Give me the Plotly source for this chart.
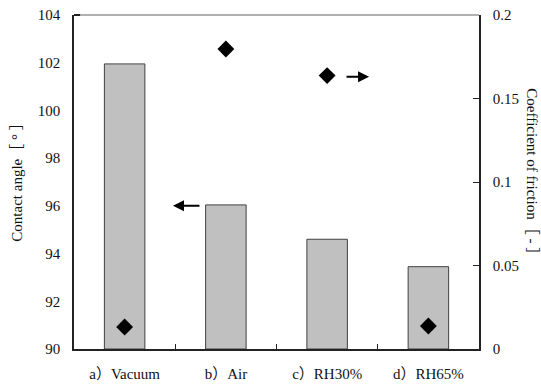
import plotly.graph_objects as go

# Conditions and measured values
conditions = ["a）Vacuum", "b）Air", "c）RH30%", "d）RH65%"]
contact_angle = [101.95, 96.04, 94.6, 93.45]       # degrees, bars on left axis
friction_coef = [0.0132, 0.1796, 0.1637, 0.0138]    # [-], diamonds on right axis
angle_base = 90

serif = "Liberation Serif, Times New Roman, Noto Sans CJK JP, serif"

fig = go.Figure()

# bars start at the bottom of the left axis
fig.add_trace(go.Bar(
    x=conditions, y=[v - angle_base for v in contact_angle], base=angle_base,
    width=0.4,
    marker=dict(color="#c0c0c0", line=dict(color="#404040", width=1)),
    yaxis="y", showlegend=False,
))

fig.add_trace(go.Scatter(
    x=conditions, y=friction_coef, mode="markers",
    marker=dict(symbol="diamond", size=13, color="black"),
    yaxis="y2", showlegend=False,
))

fig.update_layout(
    width=541, height=385,
    margin=dict(l=74, r=62, t=15, b=36),
    paper_bgcolor="white", plot_bgcolor="white",
    font=dict(family=serif, size=15, color="#111"),
    xaxis=dict(
        type="category", range=[-0.5, 3.5], automargin=False,
        showline=True, linecolor="#222", linewidth=1.5,
        ticks="inside", tickson="boundaries", ticklen=5, tickcolor="#222",
        showgrid=False, ticklabelstandoff=10,
        tickfont=dict(size=15),
    ),
    yaxis=dict(
        range=[90, 104], dtick=2, automargin=False,
        showline=True, linecolor="#222", linewidth=1.5,
        ticks="", showgrid=False, zeroline=False,
        ticklabelstandoff=9,
        tickfont=dict(size=15),
    ),
    yaxis2=dict(
        overlaying="y", side="right", automargin=False,
        range=[0, 0.2], dtick=0.05,
        showline=True, linecolor="#222", linewidth=1.5,
        ticks="inside", ticklen=6, tickcolor="#222",
        showgrid=False, zeroline=False,
        ticklabelstandoff=9,
        tickfont=dict(size=15),
    ),
    shapes=[
        # light top border of the plot area
        dict(type="line", xref="paper", yref="paper", x0=0, x1=1, y0=1, y1=1,
             line=dict(color="#b0b0b0", width=2)),
        dict(type="line", xref="paper", yref="paper", x0=0, x1=0.015, y0=1, y1=1,
             line=dict(color="#222", width=2)),
    ],
    annotations=[
        # left axis title
        dict(text="Contact angle［ ° ］", xref="paper", yref="paper",
             x=0, y=0.51, xanchor="center", yanchor="middle", xshift=-57,
             textangle=-90, showarrow=False, font=dict(size=15)),
        # right axis title, reading top to bottom
        dict(text="Coefficient of friction［ - ］", xref="paper", yref="paper",
             x=1, y=0.52, xanchor="center", yanchor="middle", xshift=53,
             textangle=90, showarrow=False, font=dict(size=15)),
        # arrow pointing to the left axis (contact angle)
        dict(x=0.478, y=96, xref="x", yref="y", ax=0.754, ay=96, axref="x", ayref="y",
             text="", showarrow=True, arrowhead=2, arrowsize=1.1, arrowwidth=2,
             arrowcolor="black"),
        # arrow pointing to the right axis (friction)
        dict(x=2.414, y=0.163, xref="x", yref="y2", ax=2.177, ay=0.163, axref="x", ayref="y2",
             text="", showarrow=True, arrowhead=2, arrowsize=1.1, arrowwidth=2,
             arrowcolor="black"),
    ],
)

fig.write_html("out.html")
